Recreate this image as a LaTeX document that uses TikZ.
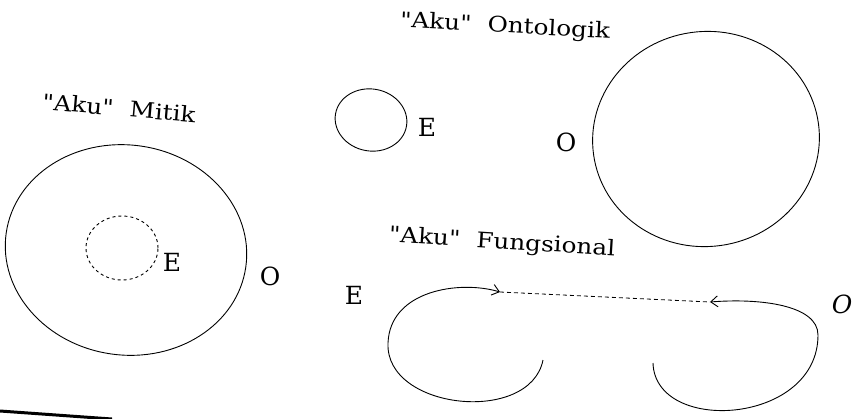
\documentclass[tikz,border=0pt]{standalone}
\usepackage{fontspec}
\setmainfont{DejaVu Serif}
\newfontfamily\plainserif{DejaVu Serif}
\usetikzlibrary{shapes.geometric,arrows.meta}
\newcommand{\widetext}[1]{\scalebox{1.15}[1]{#1}}
\tikzset{
  lbl/.style={inner sep=0pt, font=\plainserif\fontsize{21.5}{25}\selectfont},
  let/.style={inner sep=0pt, font=\plainserif\fontsize{25}{28}\selectfont},
  ring/.style={draw, ellipse, line width=0.9pt, inner sep=0pt},
  curl/.style={line width=0.9pt, -{Straight Barb[length=7pt,width=11pt,line width=0.9pt]}},
}
\begin{document}
\begin{tikzpicture}[x=1pt,y=-1pt]
\useasboundingbox (0,0) rectangle (859,418);
% Mitik
\node[lbl, rotate=-5] (tmitik) at (119,108) {\widetext{"Aku"\hspace{14pt}Mitik}};
\node[ring, minimum width=242pt, minimum height=210pt, rotate=-8] (mitik) at (126,250) {};
\node[ring, dashed, minimum width=72pt, minimum height=64pt] (mitikE) at (122,248) {};
\node[let] (eMitik) at (172,262) {E};
\node[let] (oMitik) at (270,276) {O};
% Ontologik
\node[lbl, rotate=-3] (tonto) at (505,27) {\widetext{"Aku"\hspace{14pt}Ontologik}};
\node[ring, minimum width=72pt, minimum height=62pt, rotate=-10] (ontoE) at (371,120) {};
\node[let] (eOnto) at (427,127) {E};
\node[let] (oOnto) at (566,142) {O};
\node[ring, minimum width=227pt, minimum height=215pt, rotate=8] (ontoO) at (706,139) {};
% Fungsional
\node[lbl, rotate=-3.5] (tfung) at (502,243) {\widetext{"Aku"\hspace{14pt}Fungsional}};
\node[let] (eFung) at (354,295) {E};
\node[let] (oFung) at (842,304) {\itshape O};
\coordinate (tipL) at (500,292);
\coordinate (tipR) at (710,302);
\coordinate (endL) at (543,360);
\coordinate (endR) at (653,363);
\draw[curl] (endL) .. controls (530,425) and (385,410) .. (388,343)
                   .. controls (390,290) and (460,280) .. (tipL);
\draw[curl] (endR) .. controls (655,435) and (818,425) .. (818,335)
                   .. controls (818,305) and (760,298) .. (tipR);
\draw[line width=0.8pt, dash pattern=on 4pt off 3pt] (tipL) -- (tipR);
% page edge
\draw[line width=3pt] (0,411) -- (112,419);
\end{tikzpicture}
\end{document}
